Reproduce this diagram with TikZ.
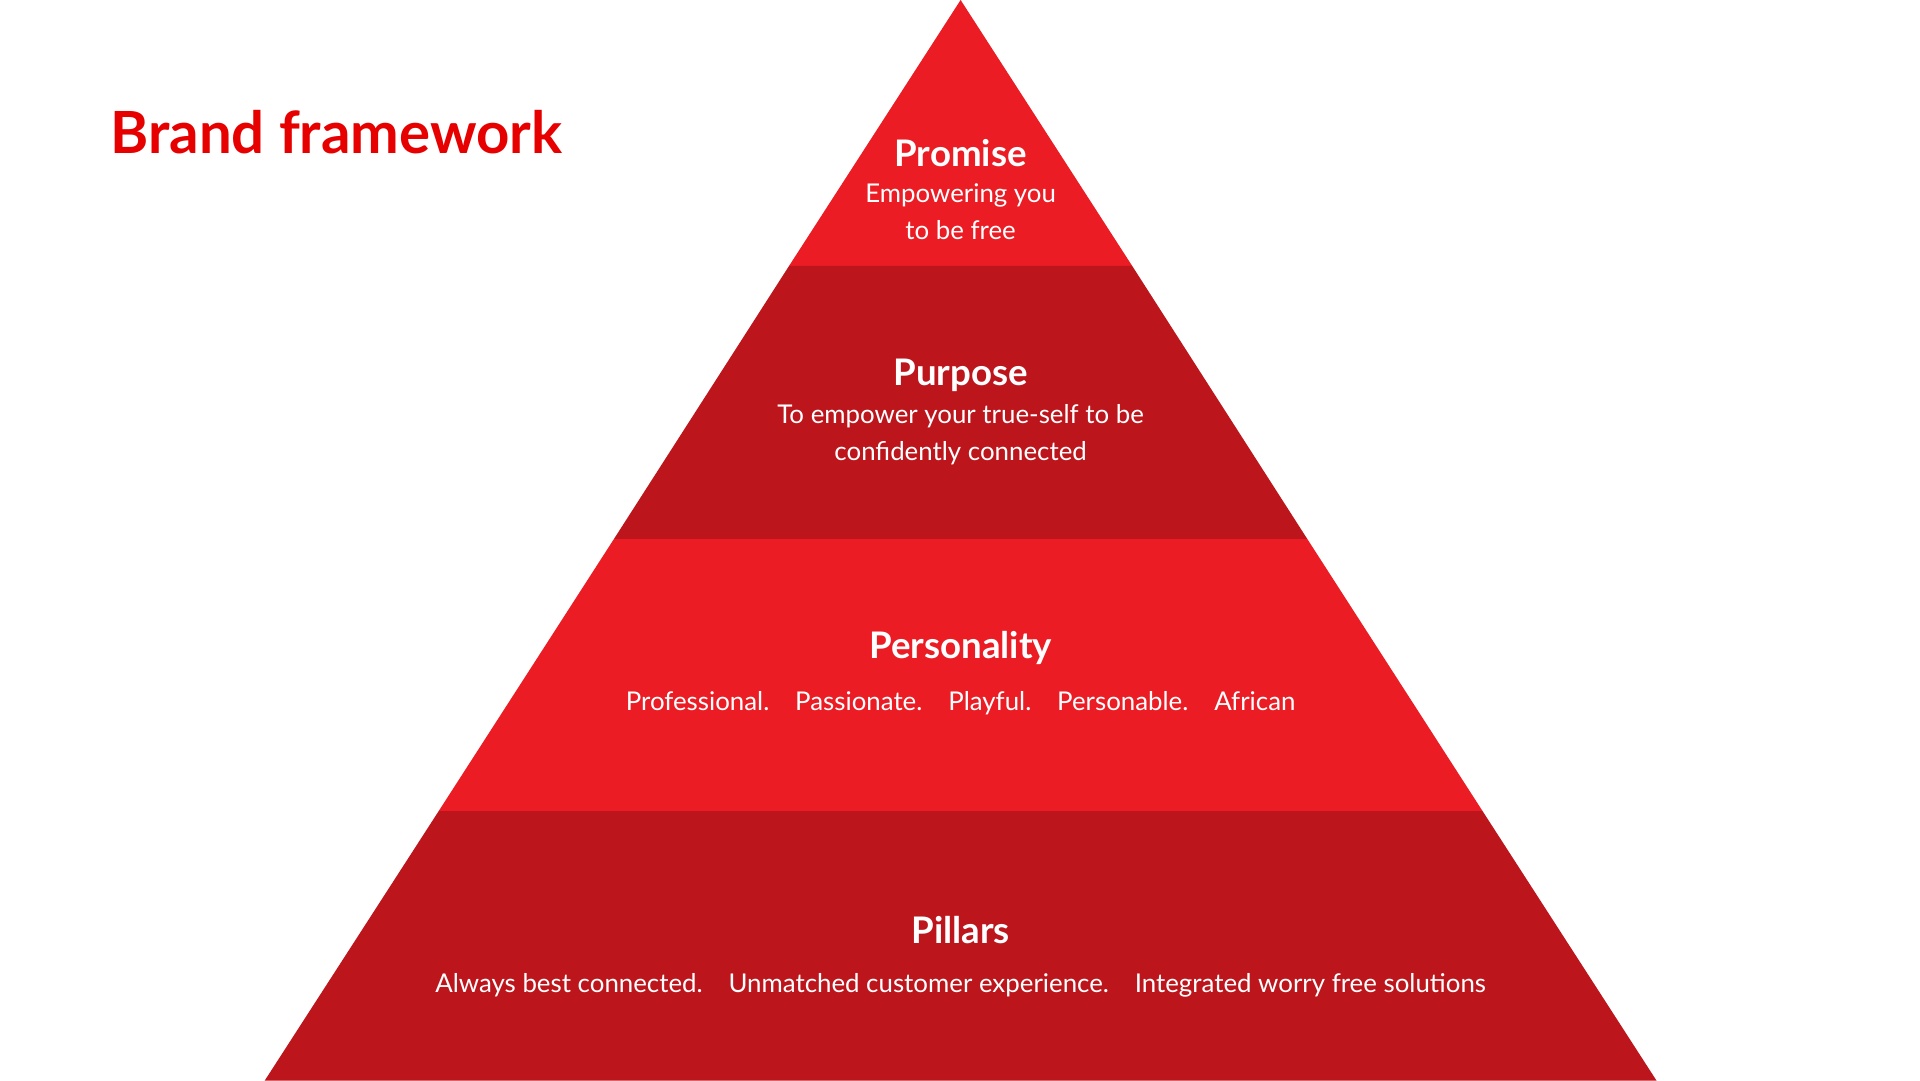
\documentclass[tikz,border=0pt]{standalone}
\usepackage{fontspec}
\setmainfont{Lato}
\definecolor{bright}{HTML}{EC1C24}
\definecolor{dark}{HTML}{BD151C}
\definecolor{titlered}{HTML}{E60000}
\begin{document}
\begin{tikzpicture}[x=0.2mm,y=-0.2mm,
  head/.style={text=white,font=\fontsize{17}{20}\selectfont\bfseries},
  body/.style={text=white,font=\fontsize{12}{17}\selectfont,align=center}]
\useasboundingbox (0,0) rectangle (1567,882);
\fill[bright] (784,0) -- (644,217) -- (924,217) -- cycle;
\fill[dark] (644,217) -- (501,440) -- (1067,440) -- (924,217) -- cycle;
\fill[bright] (501,440) -- (358,662) -- (1210,662) -- (1067,440) -- cycle;
\fill[dark] (358,662) -- (216,882) -- (1352,882) -- (1210,662) -- cycle;
\node[anchor=west,text=titlered,font=\fontsize{27}{30}\selectfont\bfseries] (title) at (84,108) {Brand framework};
\node[head] (h1) at (784,125) {Promise};
\node[body] (b1) at (784,173) {Empowering you\\to be free};
\node[head] (h2) at (784,306) {Purpose};
\node[body] (b2) at (784,355) {To empower your true-self to be\\confidently connected};
\node[head] (h3) at (784,529) {Personality};
\node[body] (b3) at (784,574) {Professional.\quad Passionate.\quad Playful.\quad Personable.\quad African};
\node[head] (h4) at (784,759) {Pillars};
\node[body] (b4) at (784,804) {Always best connected.\quad Unmatched customer experience.\quad Integrated worry free solutions};
\end{tikzpicture}
\end{document}
